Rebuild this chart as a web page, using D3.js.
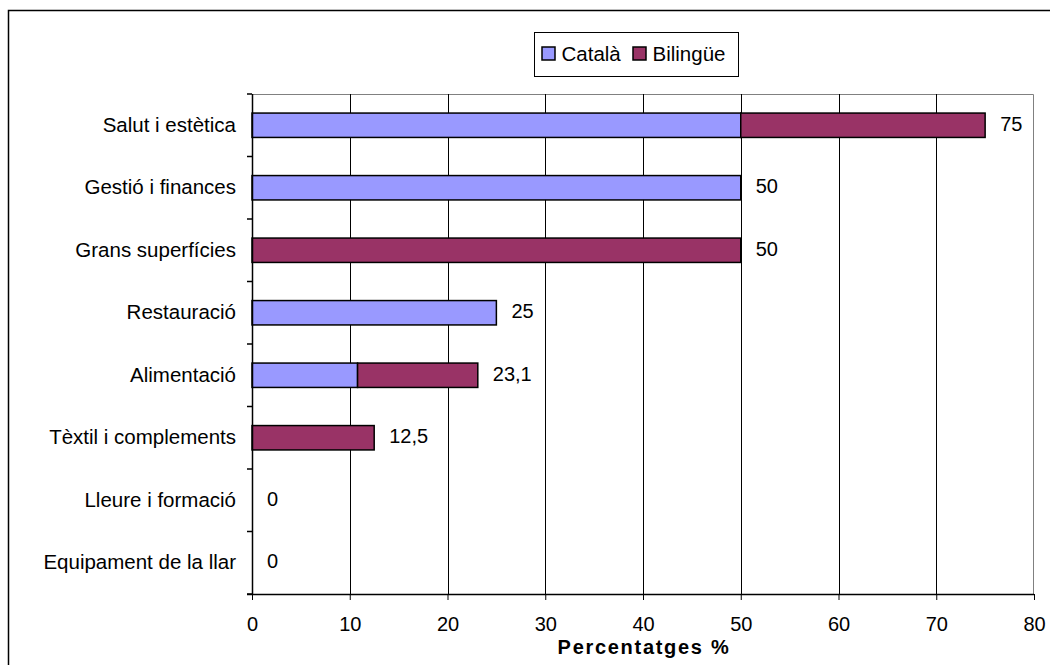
<!DOCTYPE html>
<html>
<head>
<meta charset="utf-8">
<script src="https://cdn.jsdelivr.net/npm/d3@7"></script>
<style>
  html, body { margin: 0; padding: 0; background: #fff; }
  svg { display: block; font-family: "Liberation Sans", Arial, sans-serif; }
</style>
</head>
<body>
<svg id="chart" width="1050" height="665"></svg>
<script>
// Sectors, top to bottom
const categories = [
  "Salut i estètica",
  "Gestió i finances",
  "Grans superfícies",
  "Restauració",
  "Alimentació",
  "Tèxtil i complements",
  "Lleure i formació",
  "Equipament de la llar"
];
// Share of labelling in Catalan only and bilingual, per sector (%)
const catala   = [50, 50, 0, 25, 10.8, 0, 0, 0];
const bilingue = [25, 0, 50, 0, 12.3, 12.5, 0, 0];
const totalLabels = ["75", "50", "50", "25", "23,1", "12,5", "0", "0"];
const xTicks = [0, 10, 20, 30, 40, 50, 60, 70, 80];
const seriesNames = ["Català", "Bilingüe"];
const seriesColors = ["#9999FF", "#993366"];

const svg = d3.select("#chart");
const plot = { left: 252, right: 1034, top: 94, bottom: 594 };
const FONT = "Liberation Sans, Arial, sans-serif";

// outer frame
svg.append("rect")
  .attr("x", 8.5).attr("y", 10.5)
  .attr("width", 1100).attr("height", 700)
  .attr("fill", "#fff").attr("stroke", "#000").attr("stroke-width", 1.5);

const x = d3.scaleLinear().domain([0, 80]).range([plot.left, plot.right]);
const y = d3.scaleBand().domain(categories).range([plot.top, plot.bottom]).paddingInner(0.61).paddingOuter(0.305);

// plot border (top/right grey)
svg.append("path")
  .attr("d", `M${plot.left},${plot.top + 0.5}H${plot.right - 0.5}V${plot.bottom}`)
  .attr("fill", "none").attr("stroke", "#808080").attr("stroke-width", 1);

// vertical gridlines
svg.append("g").selectAll("line")
  .data(xTicks.filter(t => t > 0 && t < 80))
  .join("line")
  .attr("x1", d => Math.round(x(d)) + 0.5).attr("x2", d => Math.round(x(d)) + 0.5)
  .attr("y1", plot.top).attr("y2", plot.bottom)
  .attr("stroke", "#000").attr("stroke-width", 1);

// stacked bars
const stackData = categories.map((c, i) => ({ cat: c, "Català": catala[i], "Bilingüe": bilingue[i] }));
const stacked = d3.stack().keys(seriesNames)(stackData);
const bars = svg.append("g");
stacked.forEach((layer, k) => {
  bars.selectAll(null)
    .data(layer.filter(d => d[1] - d[0] > 0))
    .join("rect")
    .attr("x", d => x(d[0]))
    .attr("y", d => y(d.data.cat))
    .attr("width", d => x(d[1]) - x(d[0]))
    .attr("height", y.bandwidth())
    .attr("fill", seriesColors[k])
    .attr("stroke", "#000").attr("stroke-width", 1.5);
});

// value labels
svg.append("g").selectAll("text")
  .data(categories)
  .join("text")
  .attr("x", (c, i) => x(catala[i] + bilingue[i]) + 15)
  .attr("y", c => y(c) + y.bandwidth() / 2 + 5.5)
  .attr("font-size", 20).attr("fill", "#000")
  .text((c, i) => totalLabels[i]);

// left axis
const yAxis = svg.append("g");
yAxis.append("line")
  .attr("x1", plot.left + 0.5).attr("x2", plot.left + 0.5)
  .attr("y1", plot.top).attr("y2", plot.bottom)
  .attr("stroke", "#000").attr("stroke-width", 1.5);
const step = y.step();
yAxis.selectAll(".tick")
  .data(d3.range(categories.length + 1))
  .join("line")
  .attr("x1", plot.left - 5).attr("x2", plot.left)
  .attr("y1", i => plot.top + i * step).attr("y2", i => plot.top + i * step)
  .attr("stroke", "#000").attr("stroke-width", 1.5);
yAxis.selectAll("text")
  .data(categories)
  .join("text")
  .attr("x", 236)
  .attr("y", c => y(c) + y.bandwidth() / 2 + 6.5)
  .attr("text-anchor", "end")
  .attr("font-size", 20.5).attr("fill", "#000")
  .text(c => c);

// bottom axis
const xAxis = d3.axisBottom(x).tickValues(xTicks).tickSize(6).tickPadding(17).tickFormat(d3.format("d"));
const gx = svg.append("g")
  .attr("transform", `translate(0,${plot.bottom})`)
  .call(xAxis);
gx.select(".domain").attr("stroke", "#000").attr("stroke-width", 1.5)
  .attr("d", `M${plot.left - 5},0.5H${plot.right}`);
gx.selectAll(".tick line").attr("stroke", "#000").attr("stroke-width", 1);
gx.selectAll(".tick text")
  .attr("font-size", 20).attr("font-family", FONT).attr("fill", "#000");

svg.append("text")
  .attr("x", 644).attr("y", 654)
  .attr("text-anchor", "middle")
  .attr("font-size", 20).attr("font-weight", "bold")
  .attr("letter-spacing", 1.7)
  .text("Percentatges %");

// legend
const legend = svg.append("g");
legend.append("rect")
  .attr("x", 534.5).attr("y", 32.5).attr("width", 204).attr("height", 44)
  .attr("fill", "#fff").attr("stroke", "#000").attr("stroke-width", 1);
const legendX = [542, 633];
seriesNames.forEach((name, k) => {
  legend.append("rect")
    .attr("x", legendX[k]).attr("y", 47).attr("width", 13).attr("height", 13)
    .attr("fill", seriesColors[k]).attr("stroke", "#000").attr("stroke-width", 1.5);
  legend.append("text")
    .attr("x", legendX[k] + 19.5).attr("y", 60.5)
    .attr("font-size", 20.5).attr("fill", "#000")
    .text(name);
});
</script>
</body>
</html>
